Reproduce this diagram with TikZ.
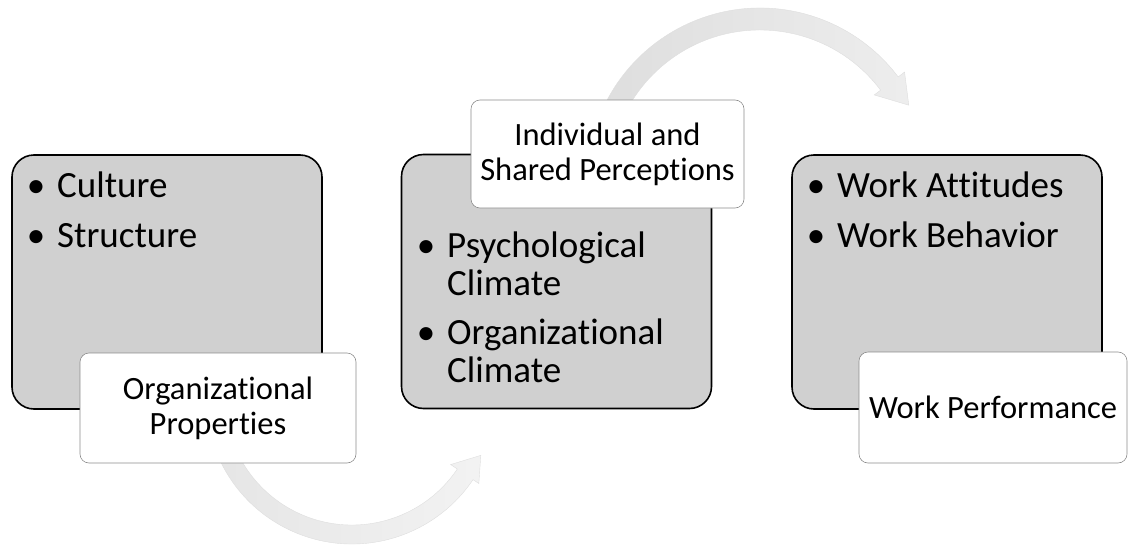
\documentclass[tikz,border=0pt]{standalone}
\usepackage{fontspec}
\setmainfont[Ligatures=NoCommon]{Carlito}
\usetikzlibrary{calc}
\definecolor{boxgray}{RGB}{208,208,208}
\newcommand{\bul}{\llap{\textbullet\hspace{12pt}}}
\begin{document}
\begin{tikzpicture}[x=1pt,y=1pt,
  graybox/.style={draw=black, line width=1.6pt, fill=boxgray, rounded corners=22pt,
    minimum width=310pt, minimum height=254pt, inner sep=0pt},
  whitebox/.style={draw=black!45, line width=0.6pt, fill=white, rounded corners=9pt,
    inner sep=0pt, align=center, font=\fontsize{32.5}{35}\selectfont},
  bullettext/.style={anchor=base west, align=left, inner sep=0pt,
    font=\fontsize{37}{37.5}\selectfont},
  flowarrow/.style={draw=black!13, line width=0.4pt}]
\useasboundingbox (0,0) rectangle (1130,-546);

% grey boxes
\node[graybox] (g1) at (167,-282) {};
\node[graybox] (g2) at (556.5,-281.5) {};
\node[graybox] (g3) at (947,-282) {};

% bullet texts (anchored at the baseline of their last line)
\node[bullettext] (t1) at (57,-247) {\bul Culture\\[12pt]\bul Structure};
\node[bullettext] (t2) at (447,-382) {\bul Psychological\\Climate\\[12pt]\bul Organizational\\Climate};
\node[bullettext] (t3) at (837,-247) {\bul Work Attitudes\\[12pt]\bul Work Behavior};

% curved arrows
\coordinate (lc) at (352,-398);
\coordinate (uc) at (760,-181);
\path[flowarrow, left color=black!10, right color=black!5]
  ([shift={(200:146)}]lc) arc[start angle=200, end angle=326, radius=146]
  -- ([shift={(326:153)}]lc) -- ([shift={(336:141)}]lc) -- ([shift={(326:119)}]lc)
  -- ([shift={(326:127)}]lc) arc[start angle=326, end angle=200, radius=127] -- cycle;
\path[flowarrow, left color=black!13, right color=black!7]
  ([shift={(160:173)}]uc) arc[start angle=160, end angle=37, radius=173]
  -- ([shift={(37:181)}]uc) -- ([shift={(27:167)}]uc) -- ([shift={(37:143)}]uc)
  -- ([shift={(37:151)}]uc) arc[start angle=37, end angle=160, radius=151] -- cycle;

% white label boxes
\node[whitebox, minimum width=276pt, minimum height=110pt] (w1) at (218,-408) {Organizational\\Properties};
\node[whitebox, minimum width=273pt, minimum height=108pt] (w2) at (607.5,-154) {Individual and\\Shared Perceptions};
\node[whitebox, minimum width=268pt, minimum height=111pt] (w3) at (993,-407.5) {Work Performance};
\end{tikzpicture}
\end{document}
